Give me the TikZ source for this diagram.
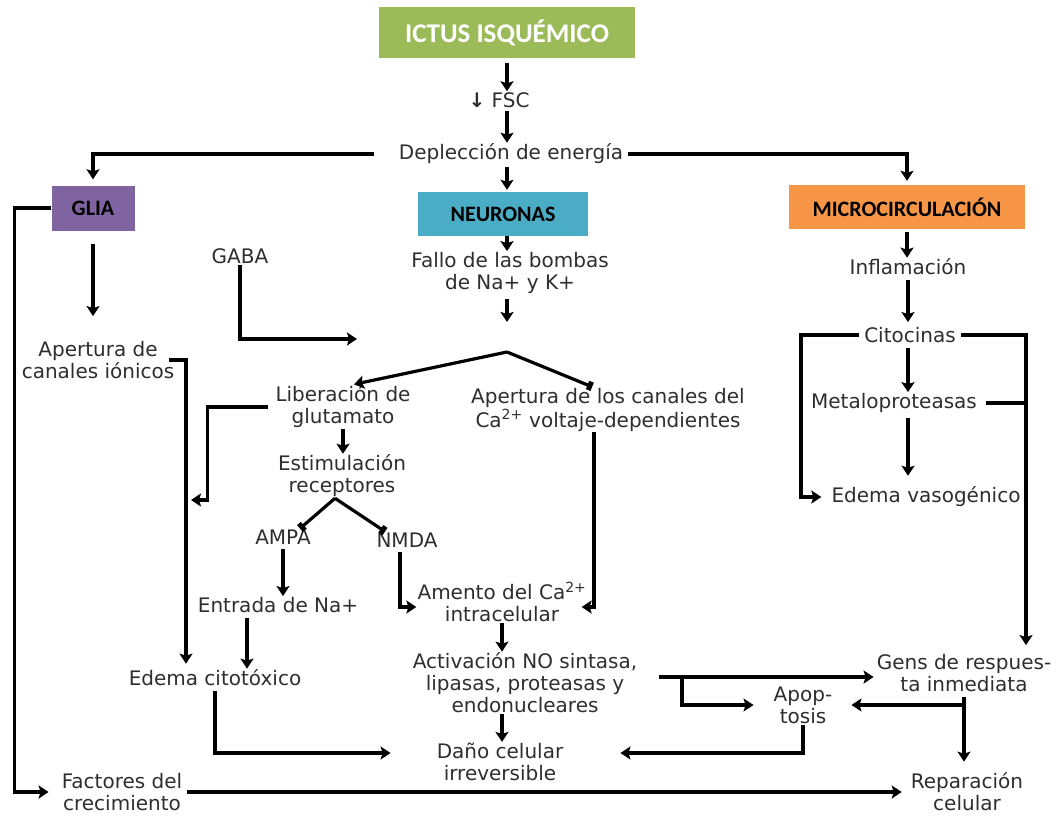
\documentclass[tikz,border=0pt]{standalone}
\usepackage{fontspec}
\setmainfont{DejaVu Sans}
\newfontfamily\hdrfont{Carlito}
\usetikzlibrary{arrows.meta}
\definecolor{ictusgreen}{HTML}{9BBB59}
\definecolor{gliapurple}{HTML}{8064A2}
\definecolor{neurblue}{HTML}{4BACC6}
\definecolor{microorange}{HTML}{F79646}
\definecolor{txtgray}{HTML}{2E2E2E}
\tikzset{
    base/.style={align=center, text=txtgray, inner sep=1pt, font=\fontsize{20pt}{22pt}\selectfont},
    head/.style={rectangle, align=center, inner sep=0pt, font=\hdrfont\bfseries\fontsize{22pt}{25pt}\selectfont},
    arrow/.style={line width=3.2pt, -{Stealth[length=10pt,width=13pt,inset=2pt]}},
    link/.style={line width=3.2pt},
    block/.style={line width=3.2pt, -{Square[length=5pt,width=9pt]}}
}

\begin{document}
\begin{tikzpicture}[x=1pt, y=-1pt]
\useasboundingbox (0,0) rectangle (1062,816);
% coloured headers
\node[head, fill=ictusgreen, text=white, minimum width=256pt, minimum height=51pt, font=\hdrfont\bfseries\fontsize{27pt}{30pt}\selectfont] (ictus) at (507,33) {ICTUS ISQUÉMICO};
\node[head, fill=gliapurple, minimum width=83pt, minimum height=45pt] (glia) at (93,208) {GLIA};
\node[head, fill=neurblue, minimum width=170pt, minimum height=44pt] (neur) at (503,214) {NEURONAS};
\node[head, fill=microorange, minimum width=236pt, minimum height=44pt] (micro) at (907,207) {MICROCIRCULACIÓN};

% centre column
\node[base] (fsc) at (499,100) {{\bfseries ↓} FSC};
\node[base] (dep) at (511,154) {Deplección de energía};
\node[base] (fallo) at (510,273) {Fallo de las bombas\\de Na+ y K+};
\node[base] (gaba) at (240,256) {GABA};
\node[base] (lib) at (343,407) {Liberación de\\glutamato};
\node[base] (apca) at (608,410) {Apertura de los canales del\\Ca\textsuperscript{2+} voltaje-dependientes};
\node[base] (est) at (342,476) {Estimulación\\receptores};
\node[base] (ampa) at (283,537) {AMPA};
\node[base] (nmda) at (407,540) {NMDA};
\node[base] (entr) at (278,605) {Entrada de Na+};
\node[base] (amento) at (502,602) {Amento del Ca\textsuperscript{2+}\\intracelular};
\node[base] (activ) at (525,683) {Activación NO sintasa,\\lipasas, proteasas y\\endonucleares};
\node[base] (dano) at (500,762) {Daño celular\\irreversible};

% left column
\node[base] (apcan) at (98,360) {Apertura de\\canales iónicos};
\node[base] (edcit) at (215,678) {Edema citotóxico};
\node[base] (factores) at (122,792) {Factores del\\crecimiento};

% right column
\node[base] (infl) at (908,267) {Inflamación};
\node[base] (cit) at (910,335) {Citocinas};
\node[base] (metal) at (894,403) {Metaloproteasas};
\node[base] (edvas) at (926,497) {Edema vasogénico};
\node[base] (gens) at (964,673) {Gens de respues-\\ta inmediata};
\node[base] (apop) at (803,705) {Apop-\\tosis};
\node[base] (reparacion) at (967,792) {Reparación\\celular};

% free ends and corners
\coordinate (falloend) at (507,322);
\coordinate (split) at (507,352);
\coordinate (gabaend) at (357,339);
\coordinate (libend) at (191,500);
\coordinate (brk) at (682,677);
\coordinate (lline) at (801,335);
\coordinate (rline) at (1026,335);

% connectors
\draw[arrow, shorten <=4pt] (ictus.south) -- (fsc.north -| ictus.south);
\draw[arrow, shorten <=2pt] (fsc.south -| ictus.south) -- (dep.north -| ictus.south);
\draw[arrow, shorten >=6pt] ([xshift=-24pt]dep.west) -| (glia.north);
\draw[arrow, shorten >=4pt] ([xshift=4pt]dep.east) -| (micro.north);
\draw[arrow, shorten <=2pt, shorten >=2pt] (dep.south -| ictus.south) -- (neur.north -| ictus.south);
\draw[arrow] (neur.south -| ictus.south) -- (fallo.north -| ictus.south);
\draw[arrow, shorten <=4pt] (fallo.south -| ictus.south) -- (falloend);
\draw[arrow, shorten >=2pt] (split) -- ([xshift=9pt]lib.north);
\draw[block, shorten >=2pt] (split) -- ([xshift=-14pt]apca.north);
\draw[arrow] (gaba.south) |- (gabaend);
\draw[arrow, shorten <=13pt, shorten >=24pt] (glia.south) -- (apcan.north -| glia.south);
\draw[arrow, shorten >=12pt] (glia.west) -- ++(-37,0) |- (factores.west);
\draw[arrow, shorten >=5pt] ([xshift=-6pt]apcan.east) -| ([xshift=-29pt]edcit.north);
\draw[arrow] ([xshift=-6pt]lib.west) -- ++(-61,0) |- (libend);
\draw[arrow] (lib.south) -- (est.north -| lib.south);
\draw[block] ([xshift=-7pt]est.south) -- ([xshift=17pt]ampa.north);
\draw[block] ([xshift=-7pt]est.south) -- ([xshift=-22pt]nmda.north);
\draw[arrow, shorten <=4pt] (ampa.south) -- (entr.north -| ampa.south);
\draw[arrow, shorten <=4pt] ([xshift=-7pt]nmda.south) |- ([yshift=-5pt]amento.west);
\draw[arrow] ([xshift=-14pt]apca.south) |- ([xshift=-6pt,yshift=-5pt]amento.east);
\draw[arrow, shorten <=4pt] ([xshift=-31pt]entr.south) -- ([xshift=-31pt]entr.south |- edcit.north);
\draw[arrow] (amento.south) -- (activ.north -| amento.south);
\draw[arrow] (activ.south -| amento.south) -- (dano.north -| amento.south);
\draw[arrow, shorten <=4pt, shorten >=45pt] (edcit.south) |- ([yshift=9pt]dano.west);
\draw[arrow, shorten >=56pt] (apop.south) |- ([yshift=9pt]dano.east);
\draw[arrow, shorten <=4pt, shorten >=8pt] (factores.east) -- (reparacion.west);
\draw[arrow, shorten >=2pt] ([xshift=21pt,yshift=6pt]activ.east) -- (gens.west |- brk);
\draw[arrow, shorten >=19pt] (brk) |- (apop.west);
\draw[arrow, shorten >=18pt] ([yshift=-4pt]gens.south) |- (apop.east);
\draw[arrow, shorten <=4pt, shorten >=10pt] (gens.south) -- (reparacion.north -| gens.south);
\draw[arrow, shorten <=3pt] (micro.south) -- (infl.north -| micro.south);
\draw[arrow, shorten <=4pt, shorten >=4pt] (infl.south) -- (cit.north -| infl.south);
\draw[arrow, shorten <=4pt] (cit.south -| infl.south) -- (metal.north -| infl.south);
\draw[arrow, shorten <=4pt, shorten >=10pt] (metal.south -| infl.south) -- (edvas.north -| infl.south);
\draw[arrow, shorten >=9pt] ([xshift=-4pt]cit.west) -- (lline) |- (edvas.west);
\draw[arrow, shorten >=8pt] ([xshift=4pt]cit.east) -- (rline) -- (gens.north -| rline);
\draw[link] ([xshift=8pt]metal.east) -- (metal.east -| rline);
\end{tikzpicture}
\end{document}
